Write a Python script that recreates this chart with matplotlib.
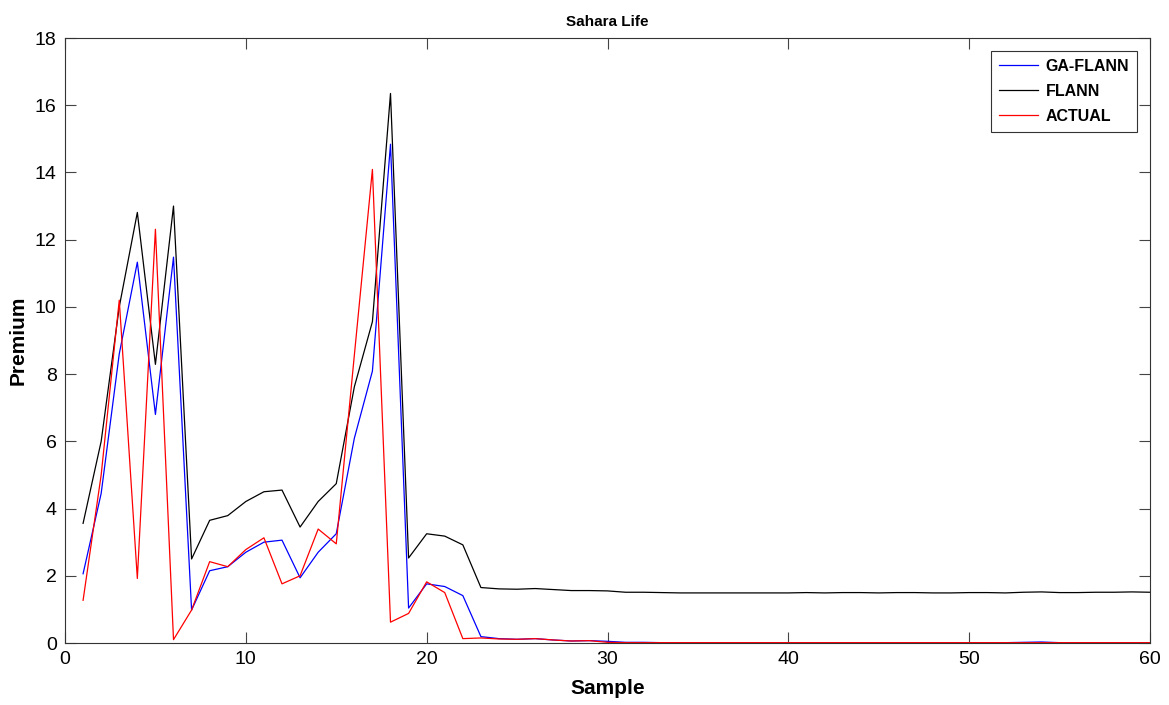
import matplotlib
matplotlib.use("Agg")
import matplotlib.pyplot as plt
import numpy as np

samples = list(range(1, 61))

ga_flann = [2.06, 4.45, 8.6, 11.33, 6.8, 11.48, 0.98, 2.15, 2.27, 2.7,
            3.0, 3.06, 1.94, 2.7, 3.25, 6.09, 8.09, 14.84, 1.04, 1.76,
            1.68, 1.41, 0.19, 0.13, 0.11, 0.13, 0.09, 0.06, 0.07, 0.05,
            0.02, 0.02, 0.01, 0.01, 0.01, 0.01, 0.01, 0.01, 0.01, 0.01,
            0.01, 0.01, 0.01, 0.01, 0.01, 0.01, 0.01, 0.01, 0.01, 0.01,
            0.01, 0.01, 0.02, 0.03, 0.01, 0.01, 0.01, 0.01, 0.01, 0.01]

flann = [3.56, 6.0, 10.0, 12.81, 8.29, 13.0, 2.5, 3.65, 3.79, 4.21,
         4.5, 4.55, 3.45, 4.21, 4.74, 7.62, 9.56, 16.35, 2.53, 3.25,
         3.18, 2.92, 1.65, 1.61, 1.6, 1.62, 1.59, 1.56, 1.56, 1.55,
         1.51, 1.51, 1.50, 1.49, 1.49, 1.49, 1.49, 1.49, 1.49, 1.49,
         1.50, 1.49, 1.50, 1.50, 1.49, 1.50, 1.50, 1.49, 1.49, 1.50,
         1.50, 1.49, 1.51, 1.52, 1.50, 1.50, 1.51, 1.51, 1.52, 1.51]

actual = [1.27, 5.0, 10.2, 1.92, 12.31, 0.1, 0.98, 2.42, 2.27, 2.78,
          3.13, 1.76, 2.0, 3.39, 2.95, 8.56, 14.09, 0.62, 0.88, 1.82,
          1.5, 0.13, 0.15, 0.12, 0.11, 0.13, 0.09, 0.06, 0.07, 0.02,
          0.01, 0.01, 0.01, 0.01, 0.01, 0.01, 0.01, 0.01, 0.01, 0.01,
          0.01, 0.01, 0.01, 0.01, 0.01, 0.01, 0.01, 0.01, 0.01, 0.01,
          0.01, 0.01, 0.01, 0.01, 0.01, 0.01, 0.01, 0.01, 0.01, 0.01]

x_ticks = [0, 10, 20, 30, 40, 50, 60]
y_ticks = [0, 2, 4, 6, 8, 10, 12, 14, 16, 18]

plt.rcParams['font.family'] = ['Liberation Sans', 'DejaVu Sans']

fig = plt.figure(figsize=(11.69, 7.05), dpi=100)
ax = fig.add_axes([65/1169, 1 - 643/705, (1150-65)/1169, (643-38)/705])

ax.plot(samples, ga_flann, color='#0000ff', lw=0.9, label='GA-FLANN')
ax.plot(samples, flann, color='#000000', lw=0.9, label='FLANN')
ax.plot(samples, actual, color='#ff0000', lw=0.9, label='ACTUAL')

ax.set_xlim(0, 60)
ax.set_ylim(0, 18)
ax.set_xticks(x_ticks)
ax.set_yticks(y_ticks)
ax.tick_params(direction='in', length=8, width=0.8, top=True, right=True,
               labelsize=14, color='#444444', pad=6)
for s in ax.spines.values():
    s.set_linewidth(0.8)
    s.set_color('#333333')

ax.set_title('Sahara Life', fontsize=11, fontweight='bold', pad=9)
ax.set_xlabel('Sample', fontsize=15, fontweight='bold', labelpad=8)
ax.set_ylabel('Premium', fontsize=15, fontweight='bold', labelpad=5)

leg = ax.legend(loc='upper right', prop={'weight': 'bold', 'size': 11.5},
                fancybox=False, edgecolor='#333333', framealpha=1,
                handlelength=2.4, handletextpad=0.5, borderpad=0.5,
                labelspacing=0.62, borderaxespad=0.8)
leg.get_frame().set_linewidth(0.8)

fig.savefig('out.png', dpi=100)
